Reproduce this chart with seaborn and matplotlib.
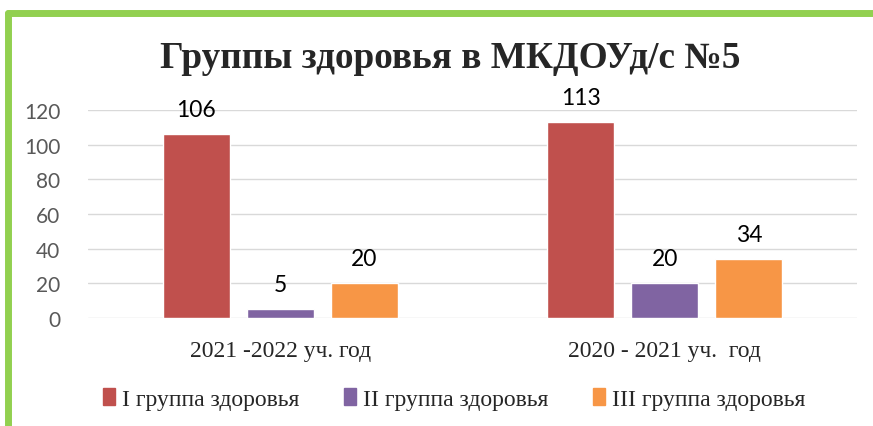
import matplotlib
matplotlib.use("Agg")
import matplotlib.pyplot as plt
from matplotlib.lines import Line2D
import pandas as pd
import seaborn as sns

# Data
years = ['2021 -2022 уч. год', '2020 - 2021 уч.  год']
groups = ['I группа здоровья', 'II группа здоровья', 'III группа здоровья']
group1 = [106, 113]
group2 = [5, 20]
group3 = [20, 34]
colors = ['#C0504D', '#8064A2', '#F79646']

df = pd.DataFrame({
    'year': years * 3,
    'group': [groups[0]] * 2 + [groups[1]] * 2 + [groups[2]] * 2,
    'value': group1 + group2 + group3,
})

sns.set_style('white')
serif = ['Liberation Serif', 'DejaVu Serif']
sans = ['Lato', 'DejaVu Sans']

fig = plt.figure(figsize=(8.73, 4.27), dpi=100)
ax = fig.add_axes([0.1008, 0.2529, 0.881, 0.487])

sns.barplot(data=df, x='year', y='value', hue='group', palette=colors,
            width=0.655, gap=0.2, ax=ax, legend=False, saturation=1)

for c in ax.containers:
    ax.bar_label(c, padding=10, fontsize=16.5, family=sans, color='black')
for txt in ax.texts:
    txt.set_clip_on(False)

ax.set_ylim(0, 120)
ax.set_yticks(range(0, 121, 20))
ax.yaxis.grid(True, color='#D9D9D9', linewidth=1)
ax.set_axisbelow(True)
for s in ax.spines.values():
    s.set_visible(False)
ax.tick_params(axis='y', length=0, pad=20, labelsize=15, labelcolor='#595959')
ax.tick_params(axis='x', length=0, pad=16, labelsize=17)
for lab in ax.get_yticklabels():
    lab.set_family(sans)
for lab in ax.get_xticklabels():
    lab.set_family(serif)
ax.set_xlabel('')
ax.set_ylabel('')

fig.text(0.516, 0.862, 'Группы здоровья в МКДОУд/с №5', ha='center', va='center',
         fontsize=26.8, fontweight='bold', family=serif)

handles = [plt.Rectangle((0, 0), 1, 1, color=c) for c in colors]
fig.legend(handles, groups, loc='center', bbox_to_anchor=(0.52, 0.063), ncol=3,
           frameon=False, handlelength=0.5, handleheight=0.7, handletextpad=0.3,
           columnspacing=1.9, prop={'family': serif, 'size': 17})

# green frame
fig.add_artist(Line2D([0.009, 1.0], [0.967, 0.967], color='#92D050', linewidth=5,
                      solid_capstyle='round', transform=fig.transFigure))
fig.add_artist(Line2D([0.009, 0.009], [0.967, 0.0], color='#92D050', linewidth=5,
                      solid_capstyle='round', transform=fig.transFigure))

fig.savefig('out.png', dpi=100)
